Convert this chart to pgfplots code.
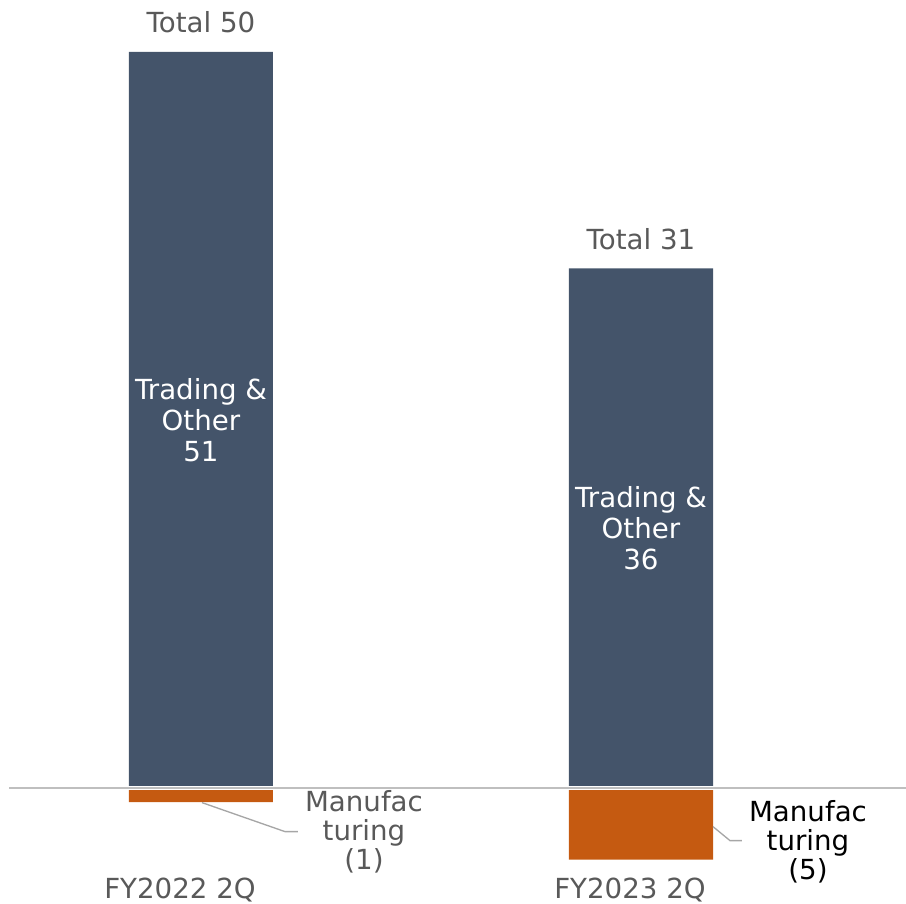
\documentclass[border=0pt]{standalone}
\usepackage{pgfplots}
\pgfplotsset{compat=1.18}
\usepackage{fontspec}
\setmainfont{DejaVu Sans}
\definecolor{barblue}{HTML}{44546A}
\definecolor{barorange}{HTML}{C55A11}
\definecolor{txtgray}{HTML}{595959}
\definecolor{leadgray}{HTML}{A6A6A6}
\definecolor{zerogray}{HTML}{BFBFBF}
\begin{document}
\begin{tikzpicture}
\begin{axis}[
  name=main,
  scale only axis,
  width=271.8pt, height=270.9pt,
  xmin=-0.4568, xmax=1.6023,
  ymin=-8, ymax=54.6,
  hide axis,
  clip=false,
  ybar, bar width=43.2pt, bar shift=0pt,
]
\addplot[fill=barblue, draw=none] coordinates {(0,51) (1,36)};
\addplot[fill=barorange, draw=none] coordinates {(0,-1) (1,-5)};
% zero line
\draw[white, line width=1.2pt] (axis cs:-0.436,0) -- (axis cs:1.6023,0);
\draw[zerogray, line width=0.6pt] (axis cs:-0.436,0) -- (axis cs:1.6023,0);
% totals
\node[anchor=base, text=txtgray, font=\fontsize{8.3pt}{9.3pt}\selectfont, yshift=5.7pt] at (axis cs:0,51) {Total 50};
\node[anchor=base, text=txtgray, font=\fontsize{8.3pt}{9.3pt}\selectfont, yshift=5.7pt] at (axis cs:1,36) {Total 31};
% inside labels
\node[align=center, text=white, font=\fontsize{8.3pt}{9.3pt}\selectfont] at (axis cs:0,25.5) {Trading \&\\Other\\51};
\node[align=center, text=white, font=\fontsize{8.3pt}{9.3pt}\selectfont] at (axis cs:1,18) {Trading \&\\Other\\36};
% manufacturing labels
\draw[leadgray, line width=0.4pt] (axis cs:{(202-201)/440},{(788-803)/14.425}) -- (axis cs:{(285-201)/440},{(788-832)/14.425}) -- (axis cs:{(298-201)/440},{(788-832)/14.425});
\node[align=center, text=txtgray, font=\fontsize{8.3pt}{8.7pt}\selectfont] at (axis cs:{(364-201)/440},{(788-832)/14.425}) {Manufac\\turing\\(1)};
\draw[leadgray, line width=0.4pt] (axis cs:{(713-201)/440},{(788-827)/14.425}) -- (axis cs:{(730-201)/440},{(788-841)/14.425}) -- (axis cs:{(742-201)/440},{(788-841)/14.425});
\node[align=center, text=black, font=\fontsize{8.3pt}{8.7pt}\selectfont] at (axis cs:{(808-201)/440},{(788-842)/14.425}) {Manufac\\turing\\(5)};
% category labels
\node[anchor=base, text=txtgray, font=\fontsize{8.3pt}{9.3pt}\selectfont] at (axis cs:{(180-201)/440},{(788-899)/14.425}) {FY2022 2Q};
\node[anchor=base, text=txtgray, font=\fontsize{8.3pt}{9.3pt}\selectfont] at (axis cs:{(630-201)/440},{(788-899)/14.425}) {FY2023 2Q};
\end{axis}
\pgfresetboundingbox
\useasboundingbox (main.south west) rectangle (main.north east);
\end{tikzpicture}
\end{document}
